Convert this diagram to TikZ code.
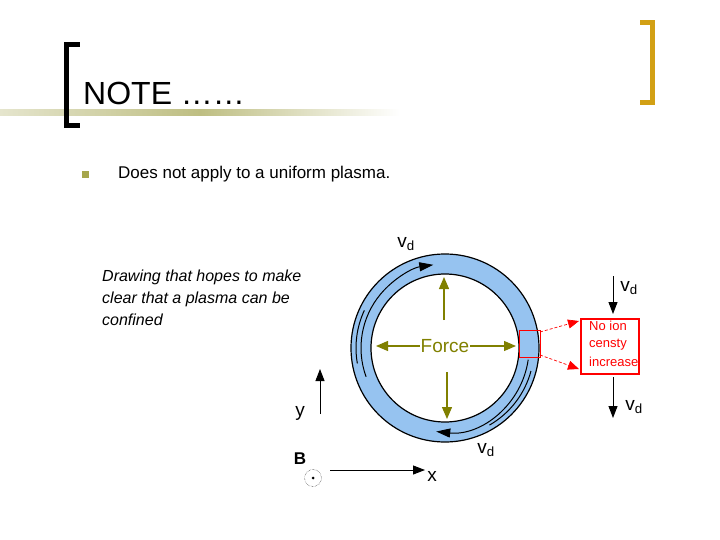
\documentclass[tikz,border=0pt]{standalone}
\usepackage{fontspec}
\setmainfont{Liberation Sans}
\usetikzlibrary{arrows.meta}
\definecolor{olive}{RGB}{128,128,0}
\definecolor{gold}{RGB}{210,160,20}
\definecolor{bar}{RGB}{190,190,130}
\definecolor{ring}{RGB}{150,195,240}
\tikzset{
  blk/.style={draw=black,line width=1pt,-{Triangle[length=12pt,width=9pt]}},
  frc/.style={draw=olive,line width=1.3pt,-{Triangle[length=12pt,width=10pt]}},
  red/.style={draw=red,line width=0.7pt},
  lbl/.style={inner sep=0pt,font=\fontsize{19}{19}\selectfont},
}
\begin{document}
\begin{tikzpicture}[x=1pt,y=-1pt]
\useasboundingbox (0,0) rectangle (720,540);
% header
\fill[left color=bar!40,right color=white,middle color=bar] (0,110) rectangle (400,116);
\fill[black] (64,42) rectangle (69,128);
\fill[black] (64,42) rectangle (80,47);
\fill[black] (64,123) rectangle (80,128);
\fill[gold] (650,20) rectangle (655,105);
\fill[gold] (640,20) rectangle (655,25);
\fill[gold] (640,100) rectangle (655,105);
\node[anchor=base west,inner sep=0pt,font=\fontsize{32}{32}\selectfont] (title) at (83,105) {NOTE ……};
\fill[olive!70] (82,171) rectangle (89,178) coordinate (bul);
\node[anchor=base west,inner sep=0pt,font=\fontsize{17}{17}\selectfont] (t1) at (118,179) {Does not apply to a uniform plasma.};
\node[anchor=north west,align=left,inner sep=0pt,font=\fontsize{16}{22}\selectfont\itshape] (t2) at (102,270) {Drawing that hopes to make\\clear that a plasma can be\\confined};
% ring
\coordinate (c) at (445,348);
\fill[ring,draw=black,line width=1.2pt,even odd rule] (c) circle[radius=94] (c) circle[radius=74];
\draw[line width=1pt,-{Triangle[length=14pt,width=9pt]}] ([shift={(160:84)}]c) arc[start angle=160,end angle=262,radius=84];
\draw[line width=1pt] ([shift={(170:89)}]c) arc[start angle=170,end angle=205,radius=89];
\draw[line width=1pt,-{Triangle[length=14pt,width=9pt]}] ([shift={(8:84)}]c) arc[start angle=8,end angle=96,radius=84];
\draw[line width=1pt] ([shift={(15:89)}]c) arc[start angle=15,end angle=60,radius=89];
% force
\node[text=olive,inner sep=1pt,font=\fontsize{19}{19}\selectfont] (f) at (445,346) {Force};
\coordinate (fu) at (444,320); \coordinate (fu2) at (444,277);
\coordinate (fd) at (447,372); \coordinate (fd2) at (447,419);
\draw[frc] (fu) -- (fu2);
\draw[frc] (fd) -- (fd2);
\draw[frc] (f.west) -- (376,346);
\draw[frc] (f.east) -- (516,346);
% red box
\draw[red] (519,330) rectangle (540,357) coordinate (rs);
\node[red,draw,line width=1.2pt,minimum width=58pt,minimum height=55pt,inner sep=0pt] (nb) at (610,346.5) {};
\node[text=red,anchor=north west,align=left,inner sep=0pt,font=\fontsize{13}{17}\selectfont] (nbt) at (589,321) {No ion\\censty\\[2pt]increase};
\coordinate (r1) at (540,332); \coordinate (r2) at (540,355);
\draw[red,densely dashed,-{Triangle[length=11pt,width=9pt]}] (r1) -- (579,321);
\draw[red,densely dashed,-{Triangle[length=11pt,width=9pt]}] (r2) -- (579,369);
% vd arrows
\coordinate (a1) at (613,276); \coordinate (a2) at (613,314);
\coordinate (a3) at (613,377); \coordinate (a4) at (613,418);
\draw[blk] (a1) -- (a2);
\draw[blk] (a3) -- (a4);
\node[lbl] (v1) at (406,244) {v\textsubscript{d}};
\node[lbl] (v2) at (629,288) {v\textsubscript{d}};
\node[lbl] (v3) at (634,407) {v\textsubscript{d}};
\node[lbl] (v4) at (486,450) {v\textsubscript{d}};
% axes
\coordinate (o) at (320,414); \coordinate (yy) at (320,369);
\draw[blk] (o) -- (yy);
\node[lbl] (ly) at (300,413) {y};
\node[lbl,font=\fontsize{17}{17}\selectfont\bfseries] (lb) at (300,459) {B};
\node[draw,circle,densely dotted,minimum size=17pt,inner sep=0pt] (bc) at (313,478) {};
\fill (bc.center) circle[radius=1.5];
\coordinate (x0) at (330,470); \coordinate (x1) at (425,470);
\draw[blk] (x0) -- (x1);
\node[lbl] (lx) at (432,476) {x};
\end{tikzpicture}
\end{document}
